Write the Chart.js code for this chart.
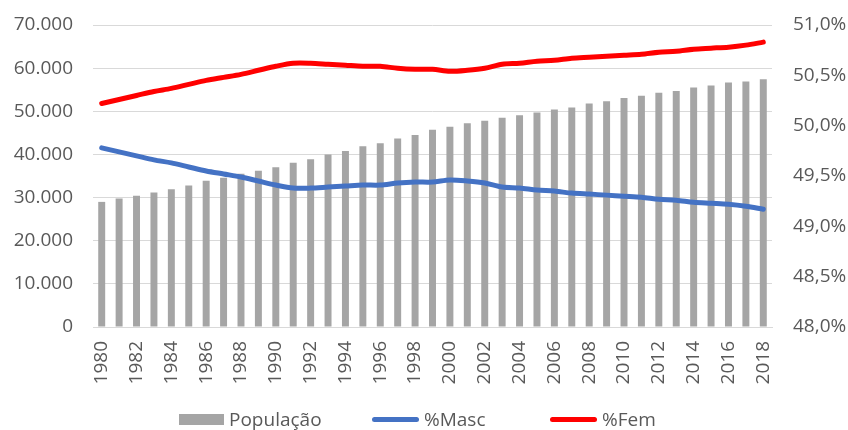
<!DOCTYPE html>
<html>
<head>
<meta charset="utf-8">
<script src="https://cdn.jsdelivr.net/npm/chart.js@4.4.1/dist/chart.umd.min.js"></script>
<style>
  body { margin: 0; background: #fff; }
  #wrap { position: relative; width: 848px; height: 430px; }
  #legenda {
    position: absolute; left: 0; top: 408px; width: 848px; height: 22px;
    font-family: 'Open Sans', sans-serif; font-size: 19px; color: #595959;
  }
  .item { position: absolute; top: 0; display: flex; align-items: center; height: 22px; white-space: nowrap; }
  .simbolo { display: inline-block; margin-right: 5px; }
</style>
</head>
<body>
<div id="wrap">
  <canvas id="grafico" width="848" height="430"></canvas>
  <div id="legenda"></div>
</div>
<script>
var anos = ['1980','1981','1982','1983','1984','1985','1986','1987','1988','1989',
            '1990','1991','1992','1993','1994','1995','1996','1997','1998','1999',
            '2000','2001','2002','2003','2004','2005','2006','2007','2008','2009',
            '2010','2011','2012','2013','2014','2015','2016','2017','2018'];

var populacao = [29000, 29800, 30400, 31200, 31900, 32800, 33900, 34600, 35500, 36200,
                 37000, 38100, 38900, 40000, 40800, 41900, 42600, 43700, 44500, 45700,
                 46400, 47200, 47800, 48500, 49100, 49700, 50400, 50900, 51800, 52300,
                 53100, 53600, 54300, 54700, 55500, 56000, 56700, 56900, 57400];

var pctMasc = [49.78, 49.74, 49.70, 49.66, 49.63, 49.59, 49.55, 49.52, 49.49, 49.45,
               49.41, 49.38, 49.38, 49.39, 49.40, 49.41, 49.41, 49.43, 49.44, 49.44,
               49.46, 49.45, 49.43, 49.39, 49.38, 49.36, 49.35, 49.33, 49.32, 49.31,
               49.30, 49.29, 49.27, 49.26, 49.24, 49.23, 49.22, 49.20, 49.17];

var pctFem = [50.22, 50.26, 50.30, 50.34, 50.37, 50.41, 50.45, 50.48, 50.51, 50.55,
              50.59, 50.62, 50.62, 50.61, 50.60, 50.59, 50.59, 50.57, 50.56, 50.56,
              50.54, 50.55, 50.57, 50.61, 50.62, 50.64, 50.65, 50.67, 50.68, 50.69,
              50.70, 50.71, 50.73, 50.74, 50.76, 50.77, 50.78, 50.80, 50.83];

var corTexto = '#595959';
var corGrade = '#d9d9d9';
var fonte = { family: "'Open Sans', sans-serif", size: 19 };

function formatarMilhar(v) {
    return String(v).replace(/\B(?=(\d{3})+(?!\d))/g, '.');
}

// o Chart.js soma o padding dos ticks nas margens; aqui fixo as larguras na mao
function ajustarEixoY(largura) {
    return function(escala) {
        escala.width = largura;
        escala.paddingTop = 0;
        escala.paddingBottom = 0;
    };
}

var ctx = document.getElementById('grafico').getContext('2d');
var grafico = new Chart(ctx, {
    type: 'bar',
    data: {
        labels: anos,
        datasets: [
            {
                label: 'População',
                data: populacao,
                backgroundColor: '#a5a5a5',
                barPercentage: 0.4,
                categoryPercentage: 1,
                yAxisID: 'y',
                order: 3
            },
            {
                type: 'line',
                label: '%Masc',
                data: pctMasc,
                borderColor: '#4472c4',
                backgroundColor: '#4472c4',
                borderWidth: 5,
                pointRadius: 0,
                tension: 0.3,
                borderCapStyle: 'round',
                yAxisID: 'y1',
                order: 2
            },
            {
                type: 'line',
                label: '%Fem',
                data: pctFem,
                borderColor: '#ff0000',
                backgroundColor: '#ff0000',
                borderWidth: 5,
                pointRadius: 0,
                tension: 0.3,
                borderCapStyle: 'round',
                yAxisID: 'y1',
                order: 1
            }
        ]
    },
    options: {
        responsive: false,
        animation: false,
        layout: {
            padding: { left: 0, right: 0, top: 25, bottom: 45 }
        },
        plugins: {
            legend: { display: false },
            tooltip: { enabled: false }
        },
        scales: {
            x: {
                grid: { display: false, drawTicks: false },
                border: { display: true, color: corGrade },
                afterFit: function(escala) {
                    escala.height = 58;
                    escala.paddingLeft = 0;
                    escala.paddingRight = 0;
                },
                ticks: {
                    autoSkip: false,
                    maxRotation: 90,
                    minRotation: 90,
                    padding: 14,
                    color: corTexto,
                    font: fonte,
                    callback: function(valor, indice) {
                        return indice % 2 === 0 ? anos[indice] : '';
                    }
                }
            },
            y: {
                position: 'left',
                min: 0,
                max: 70000,
                grid: { color: corGrade, drawTicks: false },
                border: { display: false },
                afterFit: ajustarEixoY(93),
                ticks: {
                    stepSize: 10000,
                    padding: 20,
                    color: corTexto,
                    font: fonte,
                    callback: function(valor) {
                        return formatarMilhar(valor);
                    }
                }
            },
            y1: {
                position: 'right',
                min: 48,
                max: 51,
                grid: { drawOnChartArea: false, drawTicks: false },
                border: { display: false },
                afterFit: ajustarEixoY(76),
                ticks: {
                    stepSize: 0.5,
                    padding: 21,
                    color: corTexto,
                    font: fonte,
                    callback: function(valor) {
                        return valor.toFixed(1).replace('.', ',') + '%';
                    }
                }
            }
        }
    }
});

// legenda em HTML, montada a partir dos datasets
var posLegenda = [179, 372, 550];
var legenda = document.getElementById('legenda');
grafico.data.datasets.forEach(function(ds, i) {
    var item = document.createElement('div');
    item.className = 'item';
    item.style.left = posLegenda[i] + 'px';
    var simbolo = document.createElement('span');
    simbolo.className = 'simbolo';
    if (ds.type === 'line') {
        simbolo.style.width = '47px';
        simbolo.style.height = '5px';
        simbolo.style.borderRadius = '3px';
        simbolo.style.background = ds.borderColor;
    } else {
        simbolo.style.width = '45px';
        simbolo.style.height = '11px';
        simbolo.style.background = ds.backgroundColor;
    }
    var texto = document.createElement('span');
    texto.textContent = ds.label;
    item.appendChild(simbolo);
    item.appendChild(texto);
    legenda.appendChild(item);
});
</script>
</body>
</html>
